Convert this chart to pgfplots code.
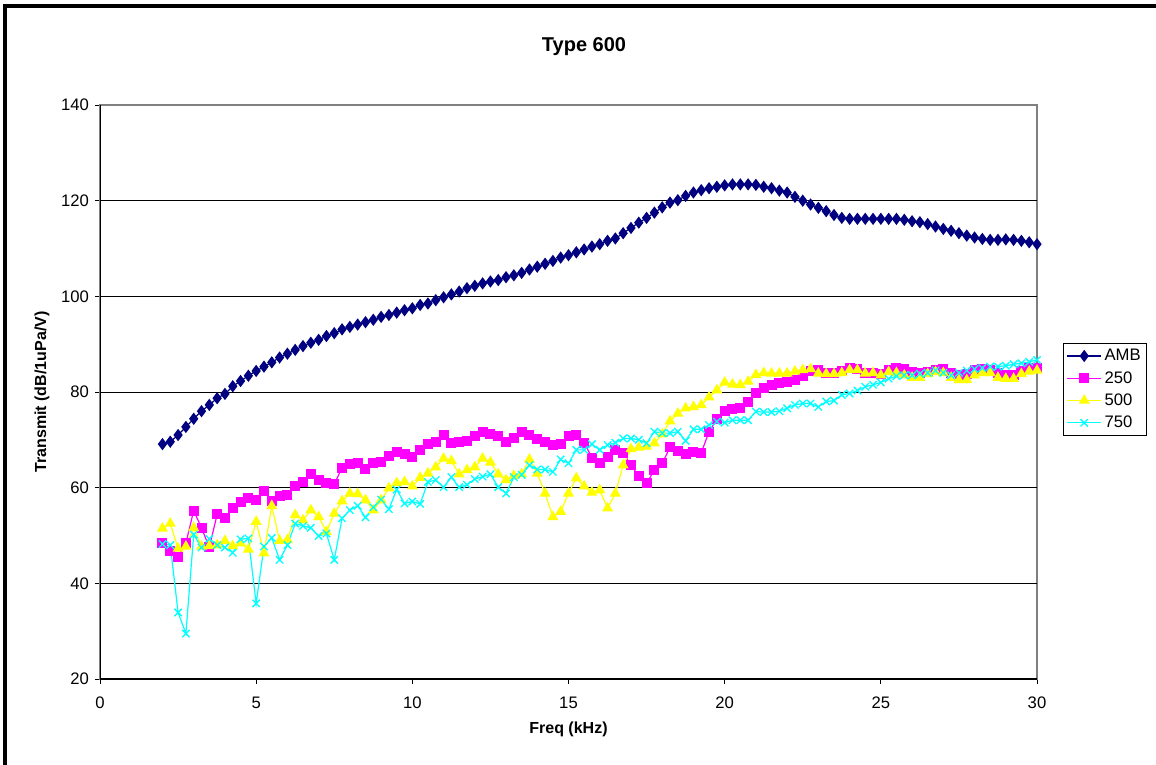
\documentclass[border=0pt]{standalone}
\usepackage{fontspec}
\setmainfont{Liberation Sans}
\usepackage{pgfplots}
\pgfplotsset{compat=1.18}
\definecolor{cAMB}{HTML}{000080}
\definecolor{c250}{HTML}{FF00FF}
\definecolor{c500}{HTML}{FFFF00}
\definecolor{c750}{HTML}{00FFFF}

\begin{document}
\begin{tikzpicture}[x=0.75pt,y=0.75pt]
\path[use as bounding box] (0,0) rectangle (1156,764);
% outer chart frame (left and top edges only are in view)
\draw[line width=2.4pt] (5,-10) -- (5,758) -- (1170,758);
\node[font=\bfseries\fontsize{15}{18}\selectfont] at (584,717) {Type 600};
\begin{axis}[
    at={(75pt,63.75pt)}, anchor=south west,
    scale only axis, width=702.75pt, height=430.5pt,
    xmin=0, xmax=30, ymin=20, ymax=140,
    xtick={0,5,...,30}, ytick={20,40,...,140},
    xtick pos=bottom, ytick pos=left,
    tick align=outside, major tick length=3.75pt,
    tick style={black, line width=0.6pt},
    axis line style={gray, line width=0.8pt},
    ticklabel style={font=\fontsize{12.5}{14}\selectfont},
    xticklabel style={yshift=-6pt},
    yticklabel style={xshift=-1pt},
    /pgf/number format/assume math mode=true,
    xlabel={\bfseries Freq (kHz)},
    ylabel={\bfseries Transmit (dB/1uPa/V)},
    label style={font=\fontsize{12}{14}\selectfont},
    xlabel style={yshift=-3pt},
    ylabel style={yshift=2pt},
    legend style={at={(1.0277,0.5854)}, anchor=north west, draw=black,
        font=\fontsize{12.5}{15}\selectfont, row sep=2.5pt, inner sep=2.5pt,
        cells={anchor=west}},
    legend image code/.code={\draw[mark repeat=2,mark phase=2,#1]
        plot coordinates {(0cm,0cm) (0.45cm,0cm) (0.9cm,0cm)};},
    every axis plot/.append style={line width=0.9pt},
]
\draw[black, line width=0.6pt] (axis cs:0,40) -- (axis cs:30,40);
\draw[black, line width=0.6pt] (axis cs:0,60) -- (axis cs:30,60);
\draw[black, line width=0.6pt] (axis cs:0,80) -- (axis cs:30,80);
\draw[black, line width=0.6pt] (axis cs:0,100) -- (axis cs:30,100);
\draw[black, line width=0.6pt] (axis cs:0,120) -- (axis cs:30,120);
\draw[black, line width=0.8pt] (axis cs:0,140) -- (axis cs:0,20) -- (axis cs:30,20);
\addplot[color=cAMB, mark=diamond*, mark size=3.9pt] coordinates {
(2.0,69.1) (2.25,69.6) (2.5,71.0) (2.75,72.7) (3.0,74.4) (3.25,76.0) (3.5,77.3) (3.75,78.7)
(4.0,79.6) (4.25,81.2) (4.5,82.3) (4.75,83.4) (5.0,84.4) (5.25,85.3) (5.5,86.2) (5.75,87.2)
(6.0,88.0) (6.25,88.8) (6.5,89.6) (6.75,90.3) (7.0,90.9) (7.25,91.7) (7.5,92.3) (7.75,93.1)
(8.0,93.6) (8.25,94.1) (8.5,94.6) (8.75,95.1) (9.0,95.7) (9.25,96.1) (9.5,96.6) (9.75,97.1)
(10.0,97.5) (10.25,98.2) (10.5,98.5) (10.75,99.2) (11.0,99.8) (11.25,100.4) (11.5,101.0) (11.75,101.7)
(12.0,102.2) (12.25,102.7) (12.5,103.1) (12.75,103.4) (13.0,104.0) (13.25,104.4) (13.5,104.9) (13.75,105.6)
(14.0,106.2) (14.25,106.8) (14.5,107.4) (14.75,108.1) (15.0,108.6) (15.25,109.2) (15.5,109.8) (15.75,110.4)
(16.0,110.9) (16.25,111.6) (16.5,112.1) (16.75,113.2) (17.0,114.3) (17.25,115.4) (17.5,116.4) (17.75,117.5)
(18.0,118.6) (18.25,119.6) (18.5,120.1) (18.75,121.0) (19.0,121.7) (19.25,122.2) (19.5,122.6) (19.75,122.9)
(20.0,123.2) (20.25,123.4) (20.5,123.4) (20.75,123.4) (21.0,123.3) (21.25,122.9) (21.5,122.6) (21.75,122.1)
(22.0,121.7) (22.25,120.8) (22.5,120.0) (22.75,119.2) (23.0,118.5) (23.25,117.8) (23.5,117.0) (23.75,116.4)
(24.0,116.2) (24.25,116.2) (24.5,116.2) (24.75,116.2) (25.0,116.2) (25.25,116.2) (25.5,116.2) (25.75,116.0)
(26.0,115.7) (26.25,115.5) (26.5,115.1) (26.75,114.6) (27.0,114.1) (27.25,113.7) (27.5,113.2) (27.75,112.7)
(28.0,112.3) (28.25,112.0) (28.5,111.8) (28.75,111.8) (29.0,111.9) (29.25,111.8) (29.5,111.6) (29.75,111.3)
(30.0,110.9)};
\addlegendentry{AMB}
\addplot[color=c250, mark=square*, mark size=3.3pt] coordinates {
(2.0,48.5) (2.25,46.8) (2.5,45.6) (2.75,48.4) (3.0,55.2) (3.25,51.6) (3.5,47.5) (3.75,54.4)
(4.0,53.7) (4.25,55.7) (4.5,56.9) (4.75,57.9) (5.0,57.4) (5.25,59.4) (5.5,57.2) (5.75,58.3)
(6.0,58.5) (6.25,60.4) (6.5,61.2) (6.75,62.8) (7.0,61.7) (7.25,60.9) (7.5,60.7) (7.75,64.2)
(8.0,64.9) (8.25,65.2) (8.5,64.0) (8.75,65.2) (9.0,65.4) (9.25,66.7) (9.5,67.5) (9.75,67.0)
(10.0,66.5) (10.25,67.9) (10.5,69.1) (10.75,69.6) (11.0,71.0) (11.25,69.3) (11.5,69.5) (11.75,69.8)
(12.0,70.8) (12.25,71.6) (12.5,71.2) (12.75,70.8) (13.0,69.6) (13.25,70.3) (13.5,71.7) (13.75,71.0)
(14.0,70.1) (14.25,69.6) (14.5,68.9) (14.75,69.1) (15.0,70.8) (15.25,71.0) (15.5,69.4) (15.75,66.3)
(16.0,65.2) (16.25,66.5) (16.5,67.9) (16.75,67.3) (17.0,64.7) (17.25,62.4) (17.5,60.9) (17.75,63.7)
(18.0,65.1) (18.25,68.4) (18.5,67.7) (18.75,67.0) (19.0,67.5) (19.25,67.3) (19.5,71.7) (19.75,74.3)
(20.0,76.0) (20.25,76.4) (20.5,76.7) (20.75,78.0) (21.0,79.7) (21.25,80.9) (21.5,81.5) (21.75,81.8)
(22.0,82.0) (22.25,82.5) (22.5,83.4) (22.75,84.3) (23.0,84.5) (23.25,83.9) (23.5,83.9) (23.75,84.3)
(24.0,85.0) (24.25,84.8) (24.5,83.9) (24.75,84.0) (25.0,83.8) (25.25,84.5) (25.5,85.0) (25.75,84.8)
(26.0,84.2) (26.25,84.0) (26.5,84.2) (26.75,84.5) (27.0,84.8) (27.25,84.0) (27.5,83.5) (27.75,83.8)
(28.0,84.5) (28.25,84.8) (28.5,84.5) (28.75,84.0) (29.0,83.5) (29.25,83.5) (29.5,84.3) (29.75,85.0)
(30.0,85.0)};
\addlegendentry{250}
\addplot[color=c500, mark=triangle*, mark size=3.9pt] coordinates {
(2.0,51.5) (2.25,52.5) (2.5,47.3) (2.75,47.7) (3.0,51.6) (3.25,47.7) (3.5,47.8) (3.75,48.0)
(4.0,48.9) (4.25,47.8) (4.5,48.4) (4.75,47.1) (5.0,52.9) (5.25,46.3) (5.5,56.2) (5.75,48.9)
(6.0,49.1) (6.25,54.3) (6.5,53.2) (6.75,55.3) (7.0,53.9) (7.25,50.8) (7.5,54.6) (7.75,57.2)
(8.0,58.8) (8.25,58.7) (8.5,57.4) (8.75,55.3) (9.0,57.4) (9.25,59.9) (9.5,61.0) (9.75,61.2)
(10.0,60.3) (10.25,62.1) (10.5,63.0) (10.75,64.3) (11.0,66.1) (11.25,65.6) (11.5,62.8) (11.75,63.7)
(12.0,64.3) (12.25,66.1) (12.5,65.3) (12.75,62.8) (13.0,61.6) (13.25,62.5) (13.5,62.8) (13.75,65.9)
(14.0,63.0) (14.25,58.8) (14.5,53.9) (14.75,55.0) (15.0,58.8) (15.25,62.0) (15.5,60.3) (15.75,59.0)
(16.0,59.5) (16.25,55.7) (16.5,58.8) (16.75,64.7) (17.0,68.1) (17.25,68.4) (17.5,68.6) (17.75,69.3)
(18.0,71.2) (18.25,73.9) (18.5,75.5) (18.75,76.6) (19.0,76.9) (19.25,77.3) (19.5,78.9) (19.75,80.4)
(20.0,82.0) (20.25,81.6) (20.5,81.5) (20.75,82.2) (21.0,83.6) (21.25,84.0) (21.5,83.9) (21.75,83.9)
(22.0,83.9) (22.25,84.3) (22.5,84.6) (22.75,84.8) (23.0,83.9) (23.25,83.8) (23.5,83.8) (23.75,84.0)
(24.0,84.6) (24.25,84.6) (24.5,83.9) (24.75,84.0) (25.0,83.5) (25.25,84.2) (25.5,84.0) (25.75,83.5)
(26.0,83.0) (26.25,83.0) (26.5,83.8) (26.75,84.2) (27.0,84.0) (27.25,83.0) (27.5,82.5) (27.75,82.5)
(28.0,83.5) (28.25,84.0) (28.5,84.0) (28.75,83.0) (29.0,82.8) (29.25,82.8) (29.5,83.8) (29.75,84.3)
(30.0,84.5)};
\addlegendentry{500}
\addplot[color=c750, mark=x, mark size=3.9pt, mark options={line width=1pt}] coordinates {
(2.0,48.2) (2.25,48.0) (2.5,33.9) (2.75,29.5) (3.0,50.2) (3.25,47.5) (3.5,49.3) (3.75,48.0)
(4.0,47.5) (4.25,46.4) (4.5,49.2) (4.75,49.4) (5.0,35.8) (5.25,47.7) (5.5,49.5) (5.75,44.9)
(6.0,48.0) (6.25,52.5) (6.5,52.0) (6.75,51.6) (7.0,49.9) (7.25,50.4) (7.5,44.9) (7.75,53.6)
(8.0,55.3) (8.25,56.2) (8.5,53.8) (8.75,55.9) (9.0,57.5) (9.25,55.5) (9.5,59.6) (9.75,56.7)
(10.0,57.1) (10.25,56.6) (10.5,61.2) (10.75,61.6) (11.0,60.1) (11.25,62.2) (11.5,60.1) (11.75,60.6)
(12.0,61.8) (12.25,62.3) (12.5,62.8) (12.75,60.1) (13.0,58.8) (13.25,62.2) (13.5,62.7) (13.75,64.7)
(14.0,63.8) (14.25,63.8) (14.5,63.3) (14.75,65.9) (15.0,65.1) (15.25,67.9) (15.5,67.9) (15.75,69.1)
(16.0,67.9) (16.25,68.9) (16.5,69.4) (16.75,70.3) (17.0,70.3) (17.25,70.0) (17.5,69.3) (17.75,71.7)
(18.0,71.4) (18.25,71.4) (18.5,71.7) (18.75,69.8) (19.0,72.2) (19.25,72.2) (19.5,73.1) (19.75,73.8)
(20.0,73.6) (20.25,74.1) (20.5,74.1) (20.75,74.1) (21.0,75.9) (21.25,75.8) (21.5,75.8) (21.75,76.0)
(22.0,76.6) (22.25,77.3) (22.5,77.6) (22.75,77.6) (23.0,76.9) (23.25,78.0) (23.5,78.2) (23.75,79.4)
(24.0,79.7) (24.25,80.3) (24.5,81.1) (24.75,81.5) (25.0,82.0) (25.25,82.8) (25.5,83.3) (25.75,83.5)
(26.0,83.5) (26.25,83.8) (26.5,84.0) (26.75,84.5) (27.0,84.0) (27.25,83.5) (27.5,84.0) (27.75,84.5)
(28.0,84.8) (28.25,85.0) (28.5,85.3) (28.75,85.3) (29.0,85.5) (29.25,85.8) (29.5,86.0) (29.75,86.3)
(30.0,86.7)};
\addlegendentry{750}
\end{axis}
\end{tikzpicture}
\end{document}
